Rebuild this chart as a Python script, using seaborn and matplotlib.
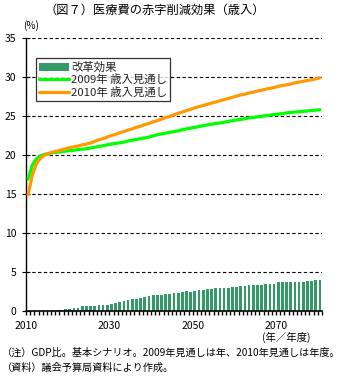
import numpy as np
import pandas as pd
import matplotlib
matplotlib.use("Agg")
import matplotlib.pyplot as plt
import matplotlib.transforms as mtransforms
import seaborn as sns

# ---- data -----------------------------------------------------------------
years = list(range(2010, 2081))

# reform effect (% of GDP), one bar per year
reform_effect = [
    0, 0, 0, 0, 0, 0,                                   # 2010-2015
    0.17, 0.17, 0.17, 0.26, 0.26, 0.4, 0.4, 0.7, 0.7,   # 2016-2024
    0.7, 0.7, 0.8, 0.8, 0.8, 0.95, 1.07, 1.2, 1.33,     # 2025-2033
    1.45, 1.58, 1.58, 1.71, 1.84, 1.97, 2.1, 2.1, 2.1,  # 2034-2042
    2.22, 2.22, 2.35, 2.35, 2.48, 2.6, 2.48, 2.6, 2.74, # 2043-2051
    2.74, 2.86, 2.86, 2.99, 2.99, 2.99, 2.99, 3.1, 3.1, # 2052-2060
    3.2, 3.2, 3.33, 3.33, 3.33, 3.33, 3.46, 3.46, 3.46, # 2061-2069
    3.72, 3.72, 3.72, 3.72, 3.72, 3.72, 3.72, 3.85,     # 2070-2077
    3.85, 3.97, 3.97,                                   # 2078-2080
]

# revenue outlook, 2009 projection (% of GDP)
outlook_2009 = [
    16.9, 18.7, 19.5, 19.9, 20.1, 20.2, 20.3, 20.35, 20.4, 20.5,    # 2010-2019
    20.55, 20.6, 20.7, 20.75, 20.8, 20.9, 21.0, 21.1, 21.2, 21.3,   # 2020-2029
    21.4, 21.5, 21.55, 21.65, 21.8, 21.9, 22.0, 22.1, 22.2, 22.3,   # 2030-2039
    22.45, 22.6, 22.7, 22.8, 22.9, 23.0, 23.1, 23.25, 23.35, 23.45, # 2040-2049
    23.55, 23.65, 23.75, 23.85, 23.95, 24.05, 24.1, 24.2, 24.3, 24.4,  # 2050-2059
    24.5, 24.55, 24.65, 24.75, 24.8, 24.9, 24.95, 25.05, 25.1, 25.2,   # 2060-2069
    25.25, 25.3, 25.4, 25.45, 25.5, 25.55, 25.6, 25.65, 25.7, 25.75,   # 2070-2079
    25.8,                                                              # 2080
]

# revenue outlook, 2010 projection (% of GDP)
outlook_2010 = [
    14.9, 17.4, 18.9, 19.6, 20.0, 20.2, 20.4, 20.5, 20.65, 20.8,      # 2010-2019
    20.95, 21.05, 21.15, 21.3, 21.4, 21.55, 21.75, 21.95, 22.1, 22.3, # 2020-2029
    22.5, 22.65, 22.85, 23.0, 23.2, 23.35, 23.55, 23.7, 23.9, 24.05,  # 2030-2039
    24.25, 24.4, 24.6, 24.8, 24.95, 25.15, 25.35, 25.5, 25.7, 25.85,  # 2040-2049
    26.05, 26.2, 26.35, 26.5, 26.65, 26.8, 26.95, 27.1, 27.25, 27.4,  # 2050-2059
    27.55, 27.7, 27.8, 27.95, 28.05, 28.2, 28.3, 28.45, 28.55, 28.65, # 2060-2069
    28.8, 28.9, 29.0, 29.1, 29.25, 29.35, 29.45, 29.55, 29.65, 29.75, # 2070-2079
    29.9,                                                             # 2080
]

series_labels = ["改革効果", "2009年 歳入見通し", "2010年 歳入見通し"]
title_text = "（図７）医療費の赤字削減効果（歳入）"
unit_label = "(%)"
x_unit_label = "(年／年度)"
note_lines = [
    "（注）GDP比。基本シナリオ。2009年見通しは年、2010年見通しは年度。",
    "（資料）議会予算局資料により作成。",
]
y_ticks = [0, 5, 10, 15, 20, 25, 30, 35]
x_ticks = [2010, 2030, 2050, 2070]

# ---- style ----------------------------------------------------------------
sns.set_theme(style="white")
plt.rcParams["font.family"] = ["Noto Sans CJK JP", "DejaVu Sans"]

W, H = 345, 378
fig = plt.figure(figsize=(W / 100, H / 100), dpi=100)
fig.patch.set_facecolor("white")
ax = fig.add_axes([26 / W, 1 - 311 / H, (322 - 26) / W, (311 - 38) / H])
ax.set_facecolor("white")

df = pd.DataFrame({
    "year": years,
    "reform": reform_effect,
    "o2009": outlook_2009,
    "o2010": outlook_2010,
})

sns.barplot(data=df, x="year", y="reform", native_scale=True, color="#339966",
            saturation=1, width=0.65, linewidth=0, ax=ax,
            label=series_labels[0], zorder=2)
sns.lineplot(data=df, x="year", y="o2009", color="#00FF00", linewidth=2.3,
             ax=ax, label=series_labels[1], zorder=3)
sns.lineplot(data=df, x="year", y="o2010", color="#FF9900", linewidth=2.3,
             ax=ax, label=series_labels[2], zorder=4)

# axes
ax.set_xlim(years[0] - 0.5, years[-1] + 0.5)
ax.set_ylim(0, 35)
ax.set_xlabel("")
ax.set_ylabel("")
ax.set_yticks(y_ticks)
ax.set_yticklabels([str(v) for v in y_ticks], fontsize=7.5, color="black")
ax.set_xticks([t - 0.5 for t in x_ticks])
ax.set_xticklabels([str(t) for t in x_ticks], fontsize=7.5, color="black")
ax.tick_params(axis="x", which="major", length=0, pad=7)
ax.tick_params(axis="y", which="major", direction="inout", length=6,
               width=0.8, color="black", left=True, pad=4)

# comb of short marks below the axis, one between each pair of years
boundaries = np.arange(years[0] - 0.5, years[-1] + 1, 1)
comb_tr = mtransforms.blended_transform_factory(ax.transData, ax.transAxes)
ax.vlines(boundaries, -0.016, 0, transform=comb_tr, colors="black",
          linewidth=1.0, clip_on=False, zorder=6)

ax.grid(False)
for v in y_ticks[1:]:
    ax.axhline(v, color="black", linewidth=0.8, linestyle=(0, (3, 2.2)), zorder=1)

for side in ("top", "right"):
    ax.spines[side].set_visible(False)
ax.spines["left"].set_color("black")
ax.spines["left"].set_linewidth(1.0)
ax.spines["bottom"].set_color("black")
ax.spines["bottom"].set_linewidth(1.2)

# legend: bars first, then the two outlooks
handles, labels = ax.get_legend_handles_labels()
order = [labels.index(lbl) for lbl in series_labels]
leg = ax.legend([handles[i] for i in order], [labels[i] for i in order],
                loc="upper left",
                bbox_to_anchor=(36 / W, 1 - 58 / H), bbox_transform=fig.transFigure,
                fontsize=8.2, frameon=True, fancybox=False, borderaxespad=0,
                handlelength=2.6, handletextpad=0.15, labelspacing=0.12,
                borderpad=0.3)
leg.get_frame().set_edgecolor("black")
leg.get_frame().set_linewidth(0.9)

# texts
fig.text(155 / W, 1 - 10 / H, title_text, ha="center", va="center",
         fontsize=8.8, color="black")
fig.text(31 / W, 1 - 26 / H, unit_label, ha="center", va="center",
         fontsize=7.2, color="black")
fig.text(286 / W, 1 - 337 / H, x_unit_label, ha="center", va="center",
         fontsize=7.5, color="black")
fig.text(2 / W, 1 - 353 / H, note_lines[0], ha="left", va="center",
         fontsize=7.3, color="black")
fig.text(2 / W, 1 - 368 / H, note_lines[1], ha="left", va="center",
         fontsize=7.3, color="black")

fig.savefig("out.png", dpi=100, facecolor="white")
